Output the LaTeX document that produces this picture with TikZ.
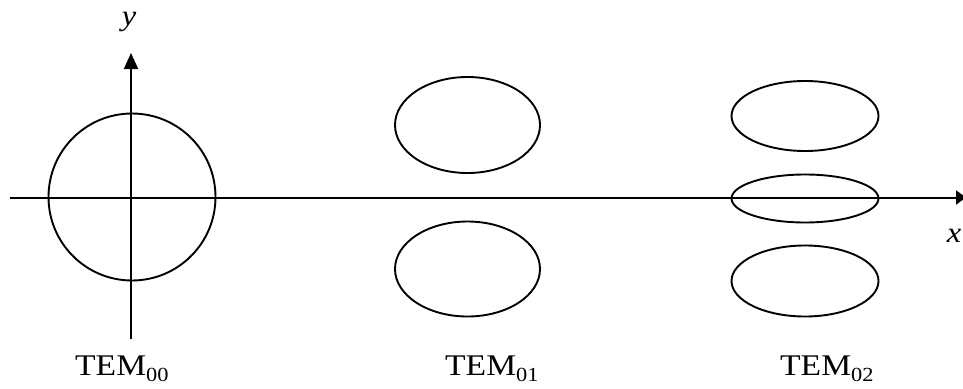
\documentclass[tikz,border=0pt]{standalone}
\usepackage{fontspec}
\setmainfont{Liberation Serif}
\newfontfamily\lblfont[FakeStretch=1.12]{Liberation Serif}
\usetikzlibrary{arrows.meta,shapes.geometric}
\newcommand{\temsub}[1]{\raisebox{-6pt}{\fontsize{20}{22}\selectfont #1}}
\begin{document}
\begin{tikzpicture}[x=1pt,y=-1pt,
  axisline/.style={line width=2pt},
  lobe/.style={draw,ellipse,line width=1.9pt,inner sep=0pt},
  lbl/.style={font=\lblfont\fontsize{30}{34}\selectfont,inner sep=0pt},
  axlbl/.style={font=\lblfont\fontsize{29}{32}\selectfont\itshape,inner sep=0pt}]
\useasboundingbox (0,0) rectangle (963,388);
% axes
\coordinate (xs) at (10,197.5);
\coordinate (xe) at (966,197.5);
\coordinate (ys) at (131,339);
\coordinate (ye) at (131,53);
\draw[axisline,-{Triangle[length=16pt,width=14pt]}] (ys) -- (ye);
\draw[axisline,-{Triangle[length=10pt,width=14pt]}] (xs) -- (xe);
\node[axlbl] (ylab) at (129,22) {y};
\node[axlbl] (xlab) at (954,236) {x};
% TEM00
\node[lobe,circle,minimum size=167pt] (c00) at (132,197) {};
% TEM01
\node[lobe,minimum width=145pt,minimum height=96pt] (e01a) at (467.5,125) {};
\node[lobe,minimum width=145pt,minimum height=95pt] (e01b) at (467.5,269) {};
% TEM02
\node[lobe,minimum width=147pt,minimum height=70pt] (e02a) at (805,116) {};
\node[lobe,minimum width=147pt,minimum height=48pt] (e02b) at (805,198.5) {};
\node[lobe,minimum width=147pt,minimum height=71pt] (e02c) at (805,281) {};
% labels
\node[lbl,anchor=base west] (t00) at (75,375) {TEM\temsub{00}};
\node[lbl,anchor=base west] (t01) at (445,375) {TEM\temsub{01}};
\node[lbl,anchor=base west] (t02) at (780,375) {TEM\temsub{02}};
\end{tikzpicture}
\end{document}
